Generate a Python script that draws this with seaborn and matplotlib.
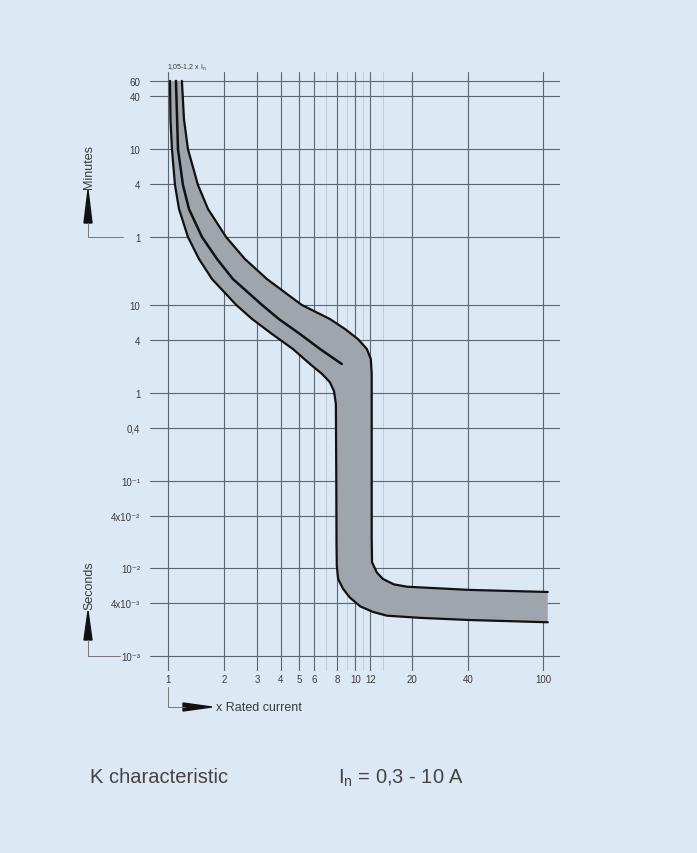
import seaborn as sns
import matplotlib.pyplot as plt
from matplotlib.lines import Line2D
from matplotlib.patches import Polygon
from matplotlib.ticker import NullFormatter, NullLocator

# tripping band: x = multiple of rated current, t = seconds
low_x = [1.025, 1.031, 1.05, 1.09, 1.145, 1.278, 1.463, 1.717, 2.31, 2.81, 3.59, 4.64,
         5.72, 6.63, 7.3, 7.68, 7.86, 7.9, 7.92, 7.95, 8.08, 8.57, 9.3, 10.6, 12.4,
         14.7, 22, 40, 106]
low_t = [3600, 1325, 600, 235, 125, 60, 33.7, 19.9, 10.1, 6.97, 4.7, 3.17,
         2.14, 1.65, 1.33, 1.05, 0.75, 0.1, 0.02, 0.0107, 0.0076, 0.0059, 0.0047,
         0.0037, 0.0032, 0.0029, 0.00274, 0.00259, 0.00244]

up_x = [1.187, 1.217, 1.278, 1.445, 1.635, 2.04, 2.57, 3.37, 5.16, 7.3, 8.8, 10.3,
        11.5, 12.07, 12.2, 12.2, 12.2, 12.2, 12.25, 13.0, 14.0, 16.0, 18.8, 40.7, 106]
up_t = [3600, 1325, 600, 235, 125, 60, 33.7, 19.9, 10.1, 6.97, 5.35, 4.12,
        3.17, 2.44, 1.65, 0.3, 0.05, 0.0218, 0.0118, 0.009, 0.0076, 0.0066, 0.0062,
        0.0057, 0.0054]

mid_x = [1.103, 1.131, 1.202, 1.294, 1.518, 1.826, 2.22, 3.17, 3.90, 5.06, 6.47, 8.45]
mid_t = [3600, 600, 235, 125, 60, 33.7, 19.9, 10.1, 6.97, 4.70, 3.17, 2.14]

x_ticks = [1, 2, 3, 4, 5, 6, 8, 10, 12, 20, 40, 100]
x_minor = [7, 9, 11, 14]
y_ticks = [3600, 2400, 600, 240, 60, 10, 4, 1, 0.4, 0.1, 0.04, 0.01, 0.004, 0.001]
y_labels = ["60", "40", "10", "4", "1", "10", "4", "1", "0,4", "10⁻¹", "4x10⁻²",
            "10⁻²", "4x10⁻³", "10⁻³"]

W, H = 697, 854
BG = "#dde8f5"
GRID = "#5d6670"
TXT = "#3a3a3a"


def fp(x, y):
    # pixel position -> figure fraction
    return x / W, 1 - y / H


sns.set_theme(style="white")
plt.rcParams["font.family"] = ["Liberation Sans", "DejaVu Sans"]

fig = plt.figure(figsize=(W / 100, H / 100), dpi=100, facecolor=BG)
ax = fig.add_axes([150 / W, 1 - 672 / H, 410 / W, 599 / H])
ax.set_facecolor(BG)
ax.set_xscale("log")
ax.set_yscale("log")
ax.set_xlim(0.802, 123.2)
ax.set_ylim(0.000679, 4550)

ax.set_xticks(x_ticks, [str(v) for v in x_ticks])
ax.set_xticks(x_minor, minor=True)
ax.xaxis.set_minor_formatter(NullFormatter())
ax.set_yticks(y_ticks, y_labels)
ax.yaxis.set_minor_locator(NullLocator())
ax.tick_params(which="both", length=0)
ax.tick_params(axis="x", pad=2, labelsize=7, labelcolor=TXT)
ax.tick_params(axis="y", pad=7, labelsize=7, labelcolor=TXT)
ax.grid(True, which="major", color=GRID, lw=0.8)
ax.grid(True, which="minor", axis="x", color=GRID, lw=0.5, alpha=0.3)
for s in ax.spines.values():
    s.set_visible(False)
ax.set_xlabel("")
ax.set_ylabel("")

ax.fill(low_x + up_x[::-1], low_t + up_t[::-1], color="#9ea5ac", lw=0, zorder=3)
sns.lineplot(x=low_x, y=low_t, sort=False, estimator=None, color="#111111", lw=1.6, ax=ax, zorder=4)
sns.lineplot(x=up_x, y=up_t, sort=False, estimator=None, color="#111111", lw=1.6, ax=ax, zorder=4)
sns.lineplot(x=mid_x, y=mid_t, sort=False, estimator=None, color="#111111", lw=1.8, ax=ax, zorder=4)

fig.text(*fp(187, 68), "1,05-1,2 x I$_\\mathregular{n}$", fontsize=5, color=TXT,
         ha="center", va="center")

# axis captions with the little arrows
line_kw = dict(color="#777777", lw=0.7, transform=fig.transFigure)
for label, y_txt, tip, base, y_ref, x_end in [("Minutes", 167, 191, 224, 238, 123),
                                              ("Seconds", 586, 612, 641, 657, 120)]:
    fig.text(*fp(89, y_txt), label, rotation=90, fontsize=9, color=TXT,
             ha="center", va="center")
    fig.add_artist(Polygon([fp(88, tip), fp(84, base), fp(92, base)], closed=True,
                           color="#111111", transform=fig.transFigure))
    xs, ys = zip(fp(88, base), fp(88, y_ref), fp(x_end, y_ref))
    fig.add_artist(Line2D(xs, ys, **line_kw))

xs, ys = zip(fp(168, 688), fp(168, 708), fp(185, 708))
fig.add_artist(Line2D(xs, ys, **line_kw))
fig.add_artist(Polygon([fp(183, 704), fp(183, 712), fp(212, 708)], closed=True,
                       color="#111111", transform=fig.transFigure))
fig.text(*fp(216, 708), "x Rated current", fontsize=9, color=TXT, ha="left", va="center")

fig.text(*fp(90, 778), "K characteristic", fontsize=14.5, color="#444444", ha="left", va="center")
fig.text(*fp(338, 778), "I$_\\mathregular{n}$ = 0,3 - 10 A", fontsize=14.5, color="#444444",
         ha="left", va="center")

plt.savefig("out.png", dpi=100, facecolor=BG)
